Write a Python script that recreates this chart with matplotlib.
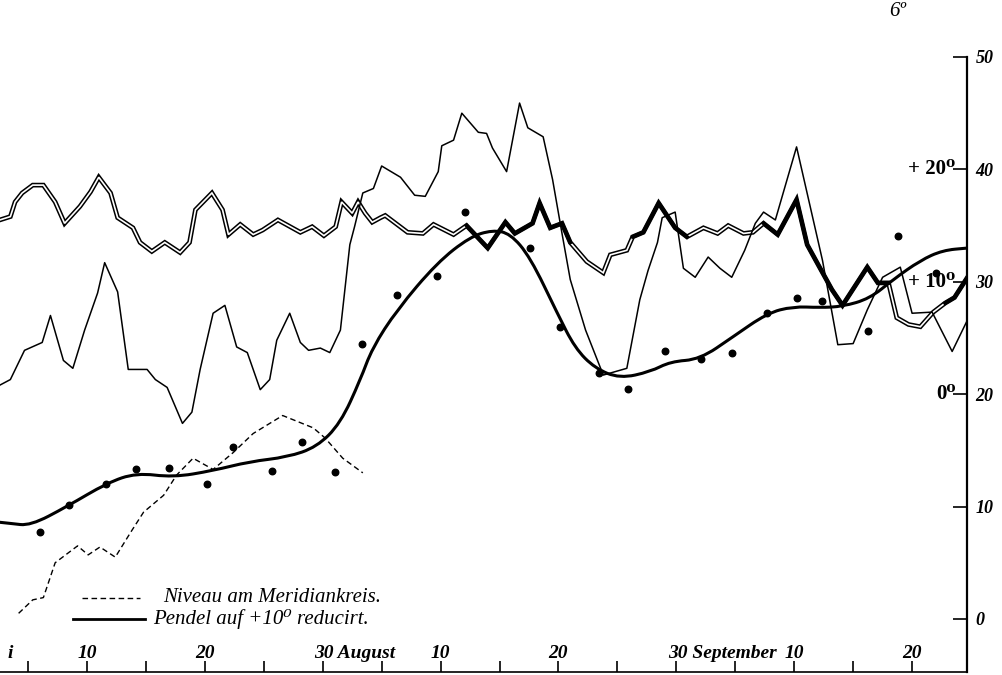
import matplotlib
matplotlib.use('Agg')
import matplotlib.pyplot as plt
from matplotlib.path import Path
from matplotlib.patches import PathPatch
import numpy as np

# x: running day number (10 = 10 August), y: scale on the right-hand axis

# double-ruled thermometer curve
therm_t = [2.6, 3.5, 3.9, 4.5, 5.4, 6.3, 7.3, 8.1, 9.4, 10.3,
           11.0, 12.0, 12.6, 13.9, 14.5, 15.5, 16.6, 17.9, 18.7, 19.2,
           20.6, 21.5, 22.0, 23.0, 24.1, 24.9, 26.2, 28.1, 29.1, 30.1,
           31.1, 31.6, 32.5, 33.0, 33.6, 34.2, 34.9, 35.3, 37.2, 38.5,
           39.4, 41.1, 42.2, 44.0, 45.5, 46.3, 47.8, 48.4, 49.3, 50.3,
           51.0, 52.4, 53.8, 54.4, 55.8, 56.3, 57.2, 58.5, 59.9, 60.9,
           62.3, 63.5, 64.4, 65.7, 66.5, 67.4, 68.6, 70.2, 71.1, 72.2,
           73.2, 74.1, 76.2, 77.1, 78.0, 78.7, 79.7, 80.7, 81.8, 82.8,
           83.6, 84.7]
therm_v = [35.5, 35.8, 37.1, 37.9, 38.6, 38.6, 37.1, 35.2, 36.7, 38.0,
           39.3, 37.9, 35.7, 34.8, 33.5, 32.7, 33.5, 32.6, 33.5, 36.4,
           37.9, 36.4, 34.2, 35.1, 34.2, 34.6, 35.5, 34.4, 34.9, 34.1,
           34.9, 37.1, 36.1, 37.1, 36.1, 35.3, 35.7, 35.9, 34.4, 34.3,
           35.1, 34.2, 35.0, 33.0, 35.3, 34.3, 35.2, 37.0, 34.8, 35.2,
           33.5, 31.8, 30.8, 32.4, 32.8, 34.0, 34.4, 37.0, 34.8, 34.0,
           34.8, 34.3, 35.0, 34.3, 34.4, 35.2, 34.2, 37.3, 33.3, 31.2,
           29.3, 27.9, 31.3, 29.9, 29.9, 26.8, 26.2, 26.0, 27.3, 28.1,
           28.6, 30.4]
# stretches where the second instrument runs on top of it (heavy line)
heavy_spans = [(42.2, 51.0), (56.3, 61.0), (67.4, 78.0), (82.8, 84.7)]

# thin single curve
thin_t = [2.6, 3.5, 4.7, 6.2, 6.9, 8.0, 8.8, 9.8, 10.9, 11.5,
          12.6, 13.5, 15.1, 15.8, 16.8, 18.1, 18.9, 19.6, 20.7, 21.7,
          22.7, 23.6, 24.7, 25.5, 26.1, 27.2, 28.1, 28.8, 29.8, 30.6,
          31.5, 32.3, 32.7, 33.4, 34.3, 35.0, 36.6, 37.8, 38.7, 39.8,
          40.1, 41.1, 41.8, 43.2, 43.9, 44.4, 45.6, 46.7, 47.4, 48.7,
          49.5, 50.3, 51.0, 52.3, 53.8, 55.8, 56.9, 57.6, 58.4, 58.8,
          59.9, 60.6, 61.6, 62.7, 63.7, 64.7, 65.8, 66.7, 67.4, 68.4,
          70.2, 72.4, 73.7, 75.0, 76.2, 77.5, 79.0, 80.0, 81.7, 83.4,
          84.7]
thin_v = [20.8, 21.3, 23.9, 24.6, 27.0, 23.0, 22.3, 25.7, 29.0, 31.7,
          29.1, 22.2, 22.2, 21.3, 20.6, 17.4, 18.4, 22.2, 27.2, 27.9,
          24.2, 23.7, 20.4, 21.3, 24.8, 27.2, 24.6, 23.9, 24.1, 23.7,
          25.7, 33.3, 34.9, 37.9, 38.3, 40.3, 39.3, 37.7, 37.6, 39.8,
          42.1, 42.6, 45.0, 43.3, 43.2, 41.9, 39.8, 45.9, 43.7, 42.9,
          39.1, 34.3, 30.2, 25.7, 21.7, 22.3, 28.4, 31.0, 33.5, 35.7,
          36.2, 31.2, 30.4, 32.2, 31.2, 30.4, 32.8, 35.2, 36.2, 35.5,
          42.0, 31.9, 24.4, 24.5, 27.5, 30.4, 31.3, 27.2, 27.3, 23.8,
          26.6]

# Niveau am Meridiankreis (dashed)
niveau_t = [4.2, 5.4, 6.3, 7.3, 9.2, 10.1, 11.1, 12.4, 13.7, 14.8,
            16.5, 17.6, 19.0, 20.7, 22.4, 24.1, 26.6, 29.2, 30.2, 31.7, 33.4]
niveau_v = [0.5, 1.7, 1.9, 5.0, 6.5, 5.7, 6.4, 5.5, 7.7, 9.5,
            11.0, 12.8, 14.3, 13.3, 14.8, 16.5, 18.1, 17.0, 16.1, 14.3, 13.0]

# Pendel auf +10 reducirt (smoothed curve)
pendel_t = [2.6, 3.5, 5.2, 8.3, 11.7, 14.2, 17.3, 20.7, 23.8, 27.0,
            29.5, 31.5, 33.2, 34.2, 36.3, 39.7, 42.5, 44.4, 45.9, 47.6,
            49.9, 51.4, 53.1, 55.2, 57.8, 59.5, 62.0, 64.8, 67.7, 69.9,
            72.2, 74.1, 76.4, 78.4, 80.7, 82.6, 84.7]
pendel_v = [8.6, 8.5, 8.3, 10.0, 12.1, 13.0, 12.6, 13.2, 14.0, 14.4,
            15.3, 17.4, 21.3, 24.1, 27.5, 31.7, 34.0, 34.6, 34.3, 32.2,
            27.2, 24.1, 22.3, 21.4, 22.0, 22.9, 23.1, 25.1, 27.2, 27.8,
            27.7, 27.8, 28.5, 30.2, 31.9, 32.8, 33.0]

# single pendulum readings
dots_t = [6.0, 8.5, 11.6, 14.2, 17.0, 20.2, 22.4, 25.7, 28.2, 31.0,
          33.3, 36.3, 39.7, 42.1, 47.6, 50.1, 53.4, 55.9, 59.0, 62.1,
          64.7, 67.7, 70.2, 72.4, 76.3, 78.8, 82.0]
dots_v = [7.7, 10.1, 12.0, 13.3, 13.4, 12.0, 15.3, 13.2, 15.7, 13.1,
          24.5, 28.8, 30.5, 36.2, 33.0, 26.0, 21.9, 20.5, 23.8, 23.1,
          23.7, 27.2, 28.6, 28.3, 25.6, 34.1, 30.8]

xticks = list(range(5, 85, 5))
xlabels = [(3.5, "i"), (10, "10"), (20, "20"), (30, "30 August"), (40, "10"),
           (50, "20"), (60, "30 September"), (70, "10"), (80, "20")]
yticks = [0, 10, 20, 30, 40, 50]
inner_labels = [(40, "+ 20⁰"), (30, "+ 10⁰"), (20, "0⁰")]

serif = ['Liberation Serif', 'DejaVu Serif']


def smooth_path(xs, ys):
    # quadratic spline through the midpoints, vertices act as control points
    pts = list(zip(xs, ys))
    verts = [pts[0]]
    codes = [Path.MOVETO]
    mid = lambda p, q: ((p[0] + q[0]) / 2, (p[1] + q[1]) / 2)
    verts.append(mid(pts[0], pts[1]))
    codes.append(Path.LINETO)
    for i in range(1, len(pts) - 1):
        verts += [pts[i], mid(pts[i], pts[i + 1])]
        codes += [Path.CURVE3, Path.CURVE3]
    verts.append(pts[-1])
    codes.append(Path.LINETO)
    return Path(verts, codes)


fig = plt.figure(figsize=(10.03, 6.75), dpi=100)
ax = fig.add_axes([0, 3 / 675, 967 / 1003, 672 / 675])
ax.set_xlim(2.62, 84.66)
ax.set_ylim(-4.72, 55.07)

# double line: black stroke with a white core
ax.plot(therm_t, therm_v, color='black', lw=3.4, solid_joinstyle='miter', zorder=3)
ax.plot(therm_t, therm_v, color='white', lw=1.2, solid_joinstyle='miter', zorder=4)
tt = np.array(therm_t)
heavy = np.zeros(len(tt), dtype=bool)
for a, b in heavy_spans:
    heavy |= (tt >= a) & (tt <= b)
ax.plot(tt, np.where(heavy, therm_v, np.nan), color='black', lw=2.7, zorder=5)

ax.plot(thin_t, thin_v, color='black', lw=1.1, zorder=6)
ax.plot(niveau_t, niveau_v, color='black', lw=1.0, dashes=(4, 2.5), zorder=6)
ax.add_patch(PathPatch(smooth_path(pendel_t, pendel_v), fill=False,
                       edgecolor='black', lw=2.2, capstyle='round', zorder=6))
ax.scatter(dots_t, dots_v, s=22, color='black', zorder=7)

# axes: only bottom and right
for side in ['left', 'top']:
    ax.spines[side].set_visible(False)
ax.spines['right'].set_bounds(-4.72, 50)
ax.spines['right'].set_linewidth(1.6)
ax.spines['bottom'].set_linewidth(1.2)

ax.set_xticks(xticks)
ax.set_xticklabels([])
ax.tick_params(axis='x', direction='in', length=8, width=1.2)
ax.yaxis.tick_right()
ax.set_yticks(yticks)
ax.set_yticklabels([str(v) for v in yticks], family=serif, style='italic',
                   weight='bold', fontsize=13)
ax.tick_params(axis='y', direction='in', length=10, width=1.2, pad=6)

trans = ax.get_xaxis_transform()
for x, s in xlabels:
    if ' ' in s:
        ax.text(x - 0.7, 0.028, s, transform=trans, ha='left', va='center',
                family=serif, style='italic', weight='bold', fontsize=14)
    else:
        ax.text(x, 0.028, s, transform=trans, ha='center', va='center',
                family=serif, style='italic', weight='bold', fontsize=14)

for y, s in inner_labels:
    ax.text(83.7, y, s, ha='right', va='center', family=serif,
            weight='bold', fontsize=15, zorder=8)

fig.text(898 / 1003, 1 - 11 / 675, "6º", family=serif, style='italic',
         fontsize=15, ha='center', va='center')

# key
ax.plot([9.6, 14.5], [1.9, 1.9], color='black', lw=1.0, dashes=(4, 2.5))
ax.text(16.5, 1.9, "Niveau am Meridiankreis.", family=serif, style='italic',
        fontsize=15, va='center')
ax.plot([8.8, 14.9], [0.0, 0.0], color='black', lw=2.0)
ax.text(15.6, 0.0, "Pendel auf +10⁰ reducirt.", family=serif, style='italic',
        fontsize=15, va='center')

fig.savefig("out.png", dpi=100)
